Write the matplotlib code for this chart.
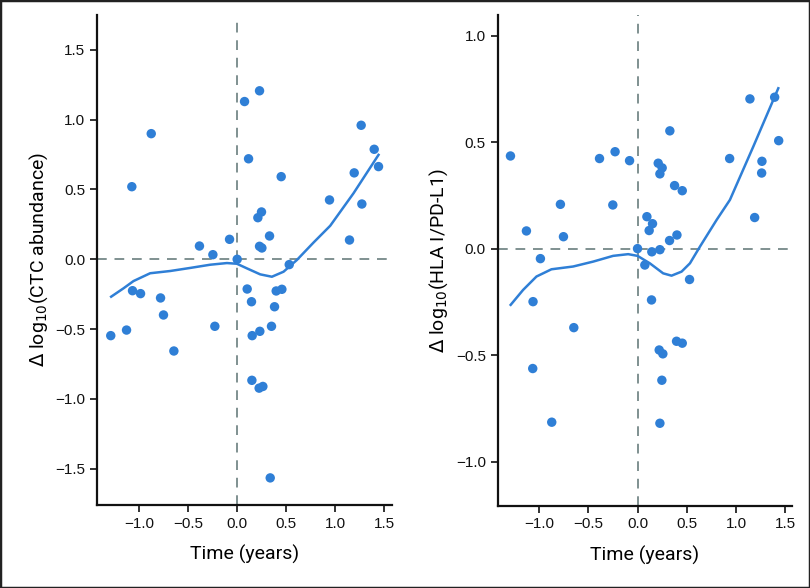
import matplotlib
matplotlib.use("Agg")
import matplotlib.pyplot as plt
from matplotlib.patches import Rectangle

# ---- Left panel: CTC abundance ----
ctc_time = [-1.075, -0.877, -0.385, -0.248, -0.078, 0.0, 0.075, 0.228, 0.116, 0.449,
            0.211, 0.248, 0.33, 0.228, 0.252, 0.531, 0.942, 1.146, 1.194, 1.265,
            1.272, 1.398, 1.442,
            -1.068, -0.986, -1.29, -1.129, -0.782, -0.752, -0.646, -0.228, 0.102,
            0.146, 0.153, 0.231, 0.35, 0.381, 0.398, 0.456, 0.15, 0.224, 0.262, 0.337]
ctc_delta = [0.52, 0.90, 0.095, 0.033, 0.143, 0.0, 1.13, 1.207, 0.72, 0.592,
             0.298, 0.339, 0.167, 0.093, 0.081, -0.038, 0.425, 0.138, 0.619, 0.96,
             0.396, 0.788, 0.664,
             -0.225, -0.246, -0.547, -0.507, -0.277, -0.399, -0.657, -0.48, -0.213,
             -0.304, -0.547, -0.516, -0.48, -0.34, -0.227, -0.215, -0.867, -0.923, -0.911, -1.566]
ctc_fit_time = [-1.286, -1.16, -1.058, -0.888, -0.684, -0.48, -0.276, -0.105, -0.003, 0.099,
                0.235, 0.354, 0.473, 0.609, 0.779, 0.949, 1.187, 1.442]
ctc_fit_delta = [-0.268, -0.208, -0.156, -0.1, -0.084, -0.062, -0.039, -0.027, -0.032, -0.065,
                 -0.108, -0.125, -0.089, -0.005, 0.12, 0.24, 0.473, 0.748]

# ---- Right panel: HLA I / PD-L1 ----
hla_time = [-1.29, -1.128, -0.986, -0.783, -0.752, -0.386, -0.228, -0.251, -0.081, 0.0,
            0.095, 0.152, 0.118, 0.074, 0.145, 0.227, 0.21, 0.25, 0.227, 0.328,
            0.376, 0.454, 0.325, 0.4, 0.528, 0.935, 1.141, 1.189, 1.263, 1.26,
            1.392, 1.433,
            -1.061, -1.064, -0.871, -0.647, 0.142, 0.396, 0.454, 0.22, 0.257, 0.247, 0.227]
hla_delta = [0.435, 0.083, -0.047, 0.208, 0.056, 0.423, 0.455, 0.205, 0.413, 0.0,
             0.15, 0.117, 0.085, -0.077, -0.015, -0.005, 0.401, 0.379, 0.351, 0.553,
             0.296, 0.272, 0.038, 0.064, -0.145, 0.423, 0.703, 0.146, 0.41, 0.355,
             0.711, 0.507,
             -0.249, -0.563, -0.815, -0.371, -0.241, -0.435, -0.444, -0.476, -0.494, -0.618, -0.82]
hla_fit_time = [-1.288, -1.162, -1.026, -0.874, -0.654, -0.451, -0.248, -0.095, 0.0, 0.125,
                0.26, 0.345, 0.447, 0.532, 0.633, 0.803, 0.938, 1.175, 1.429]
hla_fit_delta = [-0.264, -0.194, -0.131, -0.097, -0.084, -0.061, -0.034, -0.026, -0.034, -0.069,
                 -0.116, -0.127, -0.108, -0.069, 0.009, 0.135, 0.229, 0.479, 0.753]

x_ticks = [-1.0, -0.5, 0.0, 0.5, 1.0, 1.5]
ctc_yticks = [-1.5, -1.0, -0.5, 0.0, 0.5, 1.0, 1.5]
hla_yticks = [-1.0, -0.5, 0.0, 0.5, 1.0]

DOT = "#2f7fd6"
REF = "#7f9090"

label_font = ["Roboto", "DejaVu Sans"]
tick_font = "Liberation Sans"

fig = plt.figure(figsize=(8.1, 5.88), dpi=100)
fig.patches.append(Rectangle((0, 0), 1, 1, transform=fig.transFigure,
                             fill=False, edgecolor="#222222", linewidth=2.5))

ax1 = fig.add_axes([0.1198, 0.1412, 0.3642, 0.8333])
ax2 = fig.add_axes([0.6144, 0.1400, 0.3630, 0.8345])

def fmt(v):
    return ("%.1f" % v).replace("-", "\u2212")

def style(ax, tx, ty, fx, fy, yt, xlim, ylim, ylabel):
    ax.axhline(0, color=REF, lw=1.4, ls=(0, (5, 4)), zorder=1)
    ax.axvline(0, color=REF, lw=1.4, ls=(0, (5, 4)), zorder=1)
    ax.scatter(tx, ty, s=46, color=DOT, edgecolors="none", zorder=3)
    ax.plot(fx, fy, color=DOT, lw=1.8, zorder=2, solid_joinstyle="round")
    ax.set_xlim(*xlim)
    ax.set_ylim(*ylim)
    ax.set_xticks(x_ticks)
    ax.set_yticks(yt)
    ax.set_xticklabels([fmt(v) for v in x_ticks], family=tick_font, fontsize=11)
    ax.set_yticklabels([fmt(v) for v in yt], family=tick_font, fontsize=11)
    for s in ["top", "right"]:
        ax.spines[s].set_visible(False)
    for s in ["left", "bottom"]:
        ax.spines[s].set_linewidth(1.6)
        ax.spines[s].set_color("#111111")
    ax.tick_params(direction="out", length=5, width=1.2, colors="#111111")
    ax.set_xlabel("Time (years)", fontsize=14, family=label_font, labelpad=10)
    ax.set_ylabel(ylabel, fontsize=14, family=label_font, labelpad=4)

style(ax1, ctc_time, ctc_delta, ctc_fit_time, ctc_fit_delta, ctc_yticks,
      (-1.43, 1.58), (-1.76, 1.75), r"$\Delta$ log$_{10}$(CTC abundance)")
style(ax2, hla_time, hla_delta, hla_fit_time, hla_fit_delta, hla_yticks,
      (-1.42, 1.565), (-1.207, 1.097), r"$\Delta$ log$_{10}$(HLA I/PD-L1)")

fig.savefig("out.png", dpi=100)
